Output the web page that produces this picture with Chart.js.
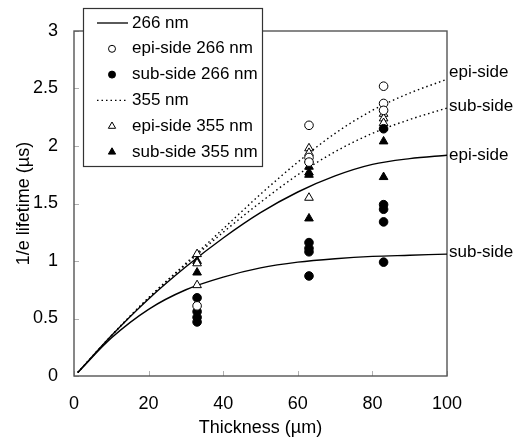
<!DOCTYPE html>
<html>
<head>
<meta charset="utf-8">
<script src="https://cdn.jsdelivr.net/npm/chart.js@4.4.0/dist/chart.umd.min.js"></script>
<style>
    body { margin: 0; background: #fff; }
    #wrap { width: 518px; height: 441px; position: relative; }
</style>
</head>
<body>
<div id="wrap"><canvas id="lifetimeChart"></canvas></div>
<script>
// fitted curves
const fitThickness = [1, 10, 20, 30, 40, 50, 60, 70, 80, 90, 100]
const fit266Epi = [0.03, 0.35, 0.67, 0.95, 1.20, 1.42, 1.60, 1.74, 1.84, 1.89, 1.92]
const fit266Sub = [0.03, 0.33, 0.58, 0.75, 0.86, 0.94, 0.99, 1.02, 1.04, 1.05, 1.06]
const fit355Epi = [0.03, 0.35, 0.68, 0.98, 1.28, 1.58, 1.86, 2.11, 2.31, 2.46, 2.58]
const fit355Sub = [0.03, 0.35, 0.68, 0.97, 1.25, 1.51, 1.75, 1.95, 2.11, 2.23, 2.33]

// measured points
const epi266Thickness = [33, 63, 63, 63, 83, 83, 83]
const epi266Lifetime = [0.61, 2.18, 1.90, 1.86, 2.52, 2.37, 2.31]
const sub266Thickness = [33, 33, 33, 33, 63, 63, 63, 63, 83, 83, 83, 83, 83]
const sub266Lifetime = [0.68, 0.56, 0.51, 0.47, 1.16, 1.11, 1.08, 0.87, 2.15, 1.49, 1.45, 1.34, 0.99]
const epi355Thickness = [33, 33, 33, 63, 63, 63, 63, 83, 83, 83]
const epi355Lifetime = [1.06, 0.98, 0.79, 1.98, 1.94, 1.88, 1.55, 2.28, 2.24, 2.20]
const sub355Thickness = [33, 33, 63, 63, 63, 63, 83, 83, 83]
const sub355Lifetime = [1.00, 0.90, 1.82, 1.77, 1.75, 1.37, 2.16, 2.04, 1.73]

const xTicks = [0, 20, 40, 60, 80, 100]
const yTicks = [0, 0.5, 1, 1.5, 2, 2.5, 3]

const FONT = '"Liberation Sans", Arial, sans-serif'

function toPoints(xs, ys) {
    return xs.map((x, i) => ({ x: x, y: ys[i] }))
}

function fitLine(values, dashed, endLabel, endLabelDy) {
    return {
        data: toPoints(fitThickness, values),
        showLine: true,
        borderColor: "#000",
        borderWidth: 1.4,
        borderDash: dashed ? [1.5, 3] : [],
        pointRadius: 0,
        cubicInterpolationMode: "monotone",
        order: 2,
        endLabel: endLabel,
        endLabelDy: endLabelDy
    }
}

function markers(xs, ys, style, filled) {
    return {
        data: toPoints(xs, ys),
        pointStyle: style,
        pointRadius: style === "circle" ? 4.3 : 5,
        pointBorderWidth: 1,
        pointBorderColor: "#000",
        pointBackgroundColor: filled ? "#000" : "#fff",
        showLine: false,
        order: 1
    }
}

const datasets = [
    fitLine(fit266Epi, false, "epi-side", 0),
    fitLine(fit266Sub, false, "sub-side", -2),
    fitLine(fit355Epi, true, "epi-side", -7),
    fitLine(fit355Sub, true, "sub-side", -2),
    markers(epi266Thickness, epi266Lifetime, "circle", false),
    markers(sub266Thickness, sub266Lifetime, "circle", true),
    markers(epi355Thickness, epi355Lifetime, "triangle", false),
    markers(sub355Thickness, sub355Lifetime, "triangle", true)
]

// legend rows: label + dataset it takes its look from
const legendLabels = ["266 nm", "epi-side 266 nm", "sub-side 266 nm", "355 nm", "epi-side 355 nm", "sub-side 355 nm"]
const legendSource = [0, 4, 5, 2, 6, 7]

const decorations = {
    id: "decorations",
    beforeDatasetsDraw(chart) {
        const { ctx, chartArea: a, scales } = chart
        ctx.save()
        ctx.strokeStyle = "#b0b0b0"
        ctx.lineWidth = 1
        ctx.beginPath()
        scales.x.ticks.forEach(t => {
            const px = Math.round(scales.x.getPixelForValue(t.value)) + 0.5
            ctx.moveTo(px, a.bottom)
            ctx.lineTo(px, a.bottom - 5)
        })
        scales.y.ticks.forEach(t => {
            const py = Math.round(scales.y.getPixelForValue(t.value)) + 0.5
            ctx.moveTo(a.left, py)
            ctx.lineTo(a.left + 5, py)
        })
        ctx.stroke()
        ctx.strokeStyle = "#555"
        ctx.lineWidth = 1.4
        ctx.strokeRect(a.left, a.top, a.right - a.left, a.bottom - a.top)
        ctx.restore()
    },
    afterDraw(chart) {
        const { ctx, chartArea: a } = chart
        ctx.save()
        ctx.font = "17px " + FONT
        ctx.fillStyle = "#000"
        ctx.textBaseline = "middle"
        ctx.textAlign = "left"

        // labels at the end of each curve
        chart.data.datasets.forEach((ds, i) => {
            if (!ds.endLabel) return
            const pts = chart.getDatasetMeta(i).data
            const last = pts[pts.length - 1]
            ctx.fillText(ds.endLabel, a.right + 2, last.y + ds.endLabelDy)
        })

        // legend box
        ctx.fillStyle = "#fff"
        ctx.fillRect(83, 8, 179, 158)
        ctx.strokeStyle = "#333"
        ctx.lineWidth = 1.2
        ctx.strokeRect(83.5, 8.5, 179, 158)

        legendLabels.forEach((label, i) => {
            const ds = chart.data.datasets[legendSource[i]]
            const y = 23 + i * 25.8
            if (ds.showLine) {
                ctx.strokeStyle = "#000"
                ctx.lineWidth = 1.3
                ctx.setLineDash(ds.borderDash)
                ctx.beginPath()
                ctx.moveTo(97, y)
                ctx.lineTo(128, y)
                ctx.stroke()
                ctx.setLineDash([])
            } else {
                ctx.fillStyle = ds.pointBackgroundColor
                ctx.strokeStyle = "#000"
                ctx.lineWidth = 1
                Chart.helpers.drawPoint(ctx, {
                    pointStyle: ds.pointStyle,
                    radius: ds.pointStyle === "circle" ? 3.5 : 4.2,
                    borderWidth: 1,
                    rotation: 0
                }, 112, y)
            }
            ctx.fillStyle = "#000"
            ctx.fillText(label, 132, y)
        })
        ctx.restore()
    }
}

new Chart(document.getElementById("lifetimeChart"), {
    type: "scatter",
    data: { datasets: datasets },
    plugins: [decorations],
    options: {
        responsive: true,
        maintainAspectRatio: false,
        animation: false,
        layout: { padding: { top: 31, right: 71, left: 0, bottom: 0 } },
        plugins: {
            legend: { display: false },
            tooltip: { enabled: false }
        },
        scales: {
            x: {
                type: "linear",
                min: 0,
                max: 100,
                afterBuildTicks: s => { s.ticks = xTicks.map(v => ({ value: v })) },
                afterFit: s => { s.height = 65 },
                grid: { display: false, drawTicks: false },
                border: { display: false },
                ticks: {
                    color: "#000",
                    padding: 17,
                    font: { family: FONT, size: 18 },
                    callback: v => String(v)
                },
                title: {
                    display: true,
                    text: "Thickness (\u00b5m)",
                    color: "#000",
                    padding: { top: 0, bottom: 2 },
                    font: { family: FONT, size: 18 }
                }
            },
            y: {
                type: "linear",
                min: 0,
                max: 3,
                afterBuildTicks: s => { s.ticks = yTicks.map(v => ({ value: v })) },
                afterFit: s => { s.width = 74 },
                grid: { display: false, drawTicks: false },
                border: { display: false },
                ticks: {
                    color: "#000",
                    padding: 16,
                    font: { family: FONT, size: 18 },
                    callback: v => String(v)
                },
                title: {
                    display: true,
                    text: "1/e lifetime (\u00b5s)",
                    color: "#000",
                    padding: { top: 13, bottom: 0 },
                    font: { family: FONT, size: 18 }
                }
            }
        }
    }
})
</script>
</body>
</html>
